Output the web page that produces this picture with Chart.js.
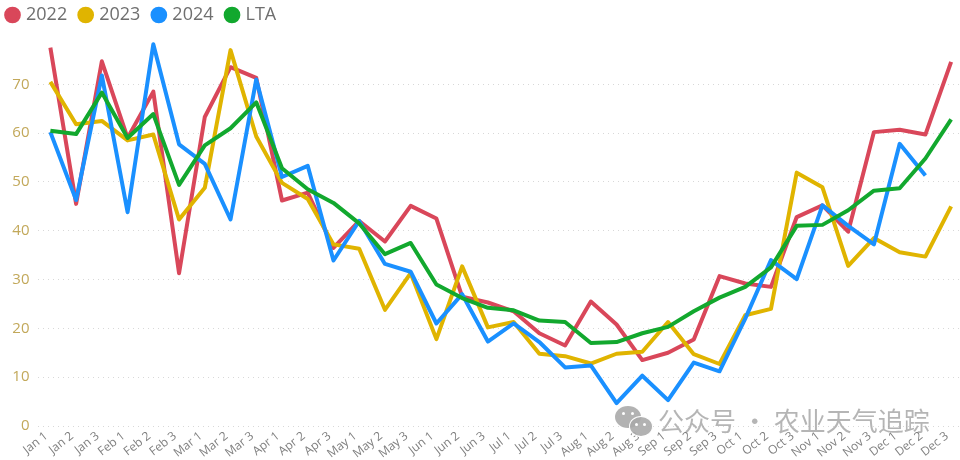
<!DOCTYPE html>
<html><head><meta charset="utf-8">
<script src="https://cdn.jsdelivr.net/npm/chart.js@4"></script>
<style>
html,body{margin:0;padding:0;background:#fff;width:960px;height:460px;overflow:hidden}
#wrap{position:relative;width:960px;height:460px;overflow:hidden}
#c{position:absolute;left:-6px;top:-8px}
#mark{position:absolute;left:658px;top:404px;font:26px "Noto Sans CJK SC";color:rgba(150,150,150,.7);white-space:nowrap;line-height:32px}
.b{position:absolute;background:rgba(170,170,170,.9);border-radius:50%}
.e{position:absolute;background:#fff;border-radius:50%;width:3px;height:3px}
</style></head><body>
<div id="wrap"><canvas id="c" width="976" height="468"></canvas>
<div class="b" style="left:615px;top:406px;width:26px;height:22px"></div>
<div class="e" style="left:622px;top:412px"></div><div class="e" style="left:631px;top:412px"></div>
<div class="b" style="left:629px;top:416px;width:22px;height:19px;border:1px solid #fff"></div>
<div class="e" style="left:635px;top:423px"></div><div class="e" style="left:643px;top:423px"></div>
<div id="mark">公众号 · 农业天气追踪</div></div>
<script>
const categories=["Jan 1","Jan 2","Jan 3","Feb 1","Feb 2","Feb 3","Mar 1","Mar 2","Mar 3","Apr 1","Apr 2","Apr 3","May 1","May 2","May 3","Jun 1","Jun 2","Jun 3","Jul 1","Jul 2","Jul 3","Aug 1","Aug 2","Aug 3","Sep 1","Sep 2","Sep 3","Oct 1","Oct 2","Oct 3","Nov 1","Nov 2","Nov 3","Dec 1","Dec 2","Dec 3"];
const y2022=[77.5,45.5,74.7,59,68.5,31.3,63.3,73.5,71.3,46.2,47.8,36.5,42,37.8,45.1,42.5,26.5,25.3,23.5,19,16.5,25.5,20.8,13.5,15,17.7,30.7,29.2,28.5,42.8,45.2,39.8,60.2,60.7,59.7,74.6];
const y2023=[70.5,61.8,62.5,58.5,59.7,42.3,48.8,77,59.3,49.8,46.5,37.2,36.3,23.8,31.3,17.8,32.7,20.2,21.3,14.8,14.3,12.8,14.8,15.2,21.3,14.7,12.7,22.7,24,51.9,48.9,32.8,38.5,35.6,34.7,45];
const y2024=[60.2,46.3,71.8,43.8,78.2,57.7,53.7,42.3,71,51,53.3,33.9,42,33.2,31.6,21,27,17.3,21,17.2,12,12.4,4.7,10.3,5.3,13,11.2,22,34,30.1,45.2,41,37.2,57.8,51.3,null];
const lta=[60.5,59.8,68.3,59,63.9,49.4,57.5,61,66.3,52.8,48.5,45.7,41.5,35.2,37.5,29,26.2,24.2,23.7,21.6,21.3,17,17.2,19,20.3,23.5,26.3,28.5,32.5,41,41.2,44.2,48.2,48.7,54.8,62.8];
const ds=(label,data,color,order)=>({label,data,borderColor:color,backgroundColor:color,borderWidth:4,pointRadius:0,pointHoverRadius:0,tension:0,order,clip:false,spanGaps:false,borderJoinStyle:'round'});
new Chart(document.getElementById('c'),{type:'line',
data:{labels:categories,datasets:[ds('2022',y2022,'#D9475A',4),ds('2023',y2023,'#E0B400',3),ds('2024',y2024,'#1A90FF',2),ds('LTA',lta,'#12A82E',1)]},
options:{responsive:false,animation:false,
layout:{padding:{left:0,right:6,top:0,bottom:0}},
plugins:{tooltip:{enabled:false},legend:{position:'top',align:'start',
 labels:{usePointStyle:true,pointStyle:'circle',boxWidth:9,boxHeight:9,padding:14,color:'#6f6f6f',font:{family:'"Open Sans"',size:18},sort:(a,b)=>a.datasetIndex-b.datasetIndex}}},
scales:{
 x:{offset:true,afterFit(s){s.height=34},grid:{display:false},border:{display:false},
  ticks:{autoSkip:false,maxRotation:38,minRotation:38,color:'#808080',padding:-5,labelOffset:-4,font:{family:'"Open Sans"',size:12}}},
 y:{min:0,max:80.3,afterFit(s){s.width=43.5},border:{display:false,dash:[1,4]},
  grid:{color:c=>c.tick&&c.tick.value>70?'rgba(0,0,0,0)':'#d8d8d8',lineWidth:1,drawTicks:false},
  ticks:{stepSize:10,padding:8,color:'#C2A85A',font:{family:'"Open Sans"',size:15},callback:v=>v>70?'':v}}
}}});
</script></body></html>
